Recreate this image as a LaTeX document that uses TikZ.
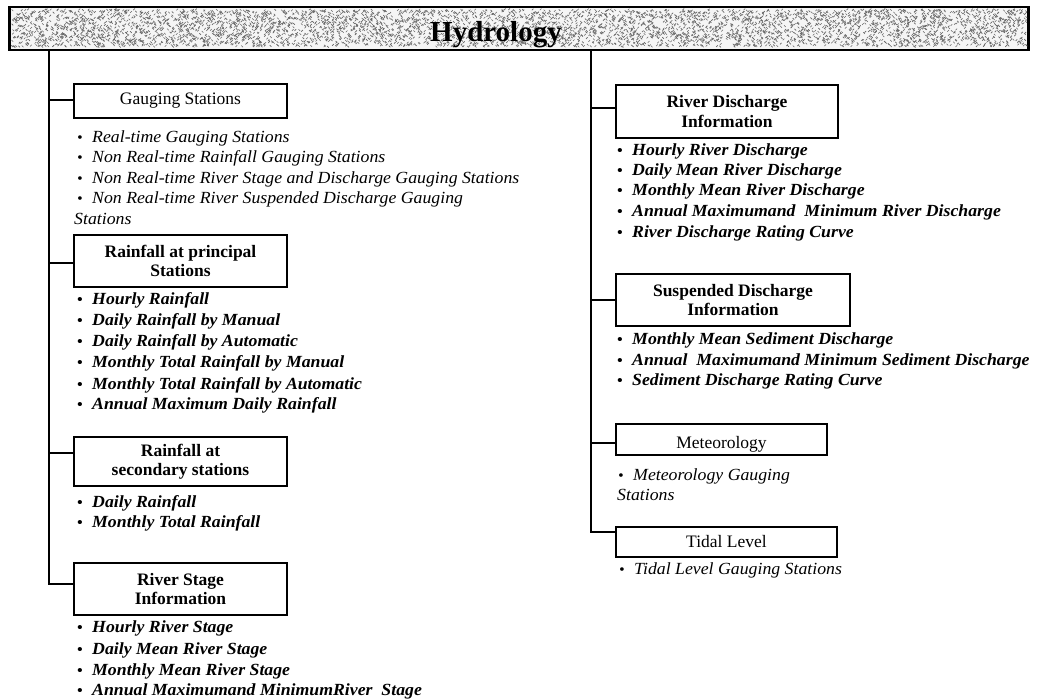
\documentclass[tikz,border=0pt]{standalone}
\usepackage{fontspec}
\setmainfont{Liberation Serif}
\newfontfamily\listfont[FakeStretch=1.045]{Liberation Serif}
\usetikzlibrary{calc}
% small bullet followed by a fixed gap
\newcommand\blt{\makebox[15pt][l]{\fontsize{15}{15}\selectfont\textbullet}}
\begin{document}
\begin{tikzpicture}[x=1pt,y=-1pt,
  wire/.style={line width=1.8pt, line cap=rect},
  bar/.style={draw, line width=1.8pt, minimum width=1018pt, minimum height=42pt, inner sep=0pt},
  grain/.style={line width=0.6pt, black!60},
  box/.style={draw, line width=1.6pt, align=center, inner sep=0pt, font=\fontsize{17.5}{19.5}\selectfont},
  bbox/.style={box, font=\fontsize{17.5}{19.5}\selectfont\bfseries},
  itm/.style={anchor=base west, inner sep=0pt, font=\listfont\fontsize{17}{20}\selectfont\itshape},
  bitm/.style={itm, font=\listfont\fontsize{17}{20}\selectfont\bfseries\itshape},
]
\useasboundingbox (0,0) rectangle (1038,699);

% ---- title bar with speckled fill
\node[bar, fill=gray!8] (hdr) at (519,28.5) {};
\pgfmathsetseed{1871}
\foreach \k in {1,...,2700}{
  \pgfmathsetmacro\px{11+1015*rnd}
  \pgfmathsetmacro\py{9+37*rnd}
  \draw[grain] (\px,\py) -- ++(1.6,1.6);
}
\foreach \k in {1,...,2700}{
  \pgfmathsetmacro\px{11+1015*rnd}
  \pgfmathsetmacro\py{10+37*rnd}
  \draw[grain] (\px,\py) -- ++(1.6,-1.6);
}
\draw[line width=1.8pt] (hdr.north west) rectangle (hdr.south east);
\node[anchor=base west, inner sep=0pt, font=\fontsize{29}{29}\selectfont\bfseries] (title) at (430,41) {Hydrology};

% ---- trunk roots under the bar
\coordinate (lt) at (49,50);
\coordinate (rt) at (591,50);

% ---- left column boxes
\node[box, minimum width=213pt, minimum height=34pt] (gs) at (180.5,101) {Gauging Stations};
\node[bbox, minimum width=213pt, minimum height=52pt] (rp) at (180.5,261) {Rainfall at principal\\Stations};
\node[bbox, minimum width=213pt, minimum height=49pt] (rs) at (180.5,461.5) {Rainfall at\\secondary stations};
\node[bbox, minimum width=213pt, minimum height=52pt] (st) at (180.5,589) {River Stage\\Information};

% ---- right column boxes
\node[bbox, minimum width=222pt, minimum height=53pt] (rd) at (727,111.5) {River Discharge\\Information};
\node[bbox, minimum width=234pt, minimum height=52pt] (sd) at (733,300) {Suspended Discharge\\Information};
\node[box, minimum width=211pt, minimum height=31pt, text height=19pt, text depth=1pt] (me) at (721.5,439.5) {Meteorology};
\node[box, minimum width=221pt, minimum height=30pt] (tl) at (726.5,542) {Tidal Level};

% ---- branch points on the boxes
\coordinate (gsin) at ([yshift=1pt]gs.west);
\coordinate (rpin) at ([yshift=-2pt]rp.west);
\coordinate (rsin) at ([yshift=8.5pt]rs.west);
\coordinate (stin) at ([yshift=5pt]st.west);
\coordinate (rdin) at ([yshift=3.5pt]rd.west);
\coordinate (sdin) at (sd.west);
\coordinate (mein) at ([yshift=-3.5pt]me.west);
\coordinate (tlin) at ([yshift=10pt]tl.west);

\draw[wire] (lt) |- (stin);
\foreach \c in {gsin,rpin,rsin}{\draw[wire] (lt |- \c) -- (\c);}
\draw[wire] (rt) |- (tlin);
\foreach \c in {rdin,sdin,mein}{\draw[wire] (rt |- \c) -- (\c);}

% ---- left column lists
\foreach \yy/\tx [count=\n] in {142.3/Real-time Gauging Stations,
    162.3/Non Real-time Rainfall Gauging Stations,
    183/Non Real-time River Stage and Discharge Gauging Stations,
    203/Non Real-time River Suspended Discharge Gauging}
  \node[itm] (gsi\n) at (77,\yy) {\blt\tx};
\node[itm] (gsi5) at (74,224) {Stations};

\foreach \yy/\tx [count=\n] in {304/Hourly Rainfall,
    325.5/Daily Rainfall by Manual,
    346.5/Daily Rainfall by Automatic,
    367.5/Monthly Total Rainfall by Manual,
    389/Monthly Total Rainfall by Automatic,
    409.5/Annual Maximum Daily Rainfall}
  \node[bitm] (rpi\n) at (77,\yy) {\blt\tx};

\foreach \yy/\tx [count=\n] in {507.3/Daily Rainfall,
    527.3/Monthly Total Rainfall}
  \node[bitm] (rsi\n) at (77,\yy) {\blt\tx};

\foreach \yy/\tx [count=\n] in {632.3/Hourly River Stage,
    654/Daily Mean River Stage,
    675/Monthly Mean River Stage,
    695.5/Annual Maximumand MinimumRiver\ \ Stage}
  \node[bitm] (sti\n) at (77,\yy) {\blt\tx};

% ---- right column lists
\foreach \yy/\tx [count=\n] in {155/Hourly River Discharge,
    175/Daily Mean River Discharge,
    195.6/Monthly Mean River Discharge,
    216.3/Annual Maximumand\ \ Minimum River Discharge,
    237.3/River Discharge Rating Curve}
  \node[bitm] (rdi\n) at (617,\yy) {\blt\tx};

\foreach \yy/\tx [count=\n] in {344/Monthly Mean Sediment Discharge,
    365.6/Annual\ \ Maximumand Minimum Sediment Discharge,
    385.6/Sediment Discharge Rating Curve}
  \node[bitm] (sdi\n) at (617,\yy) {\blt\tx};

\node[itm] (mei1) at (618,480.6) {\blt Meteorology Gauging};
\node[itm] (mei2) at (617,500.6) {Stations};

\node[itm] (tli1) at (619,574) {\blt Tidal Level Gauging Stations};
\end{tikzpicture}
\end{document}
